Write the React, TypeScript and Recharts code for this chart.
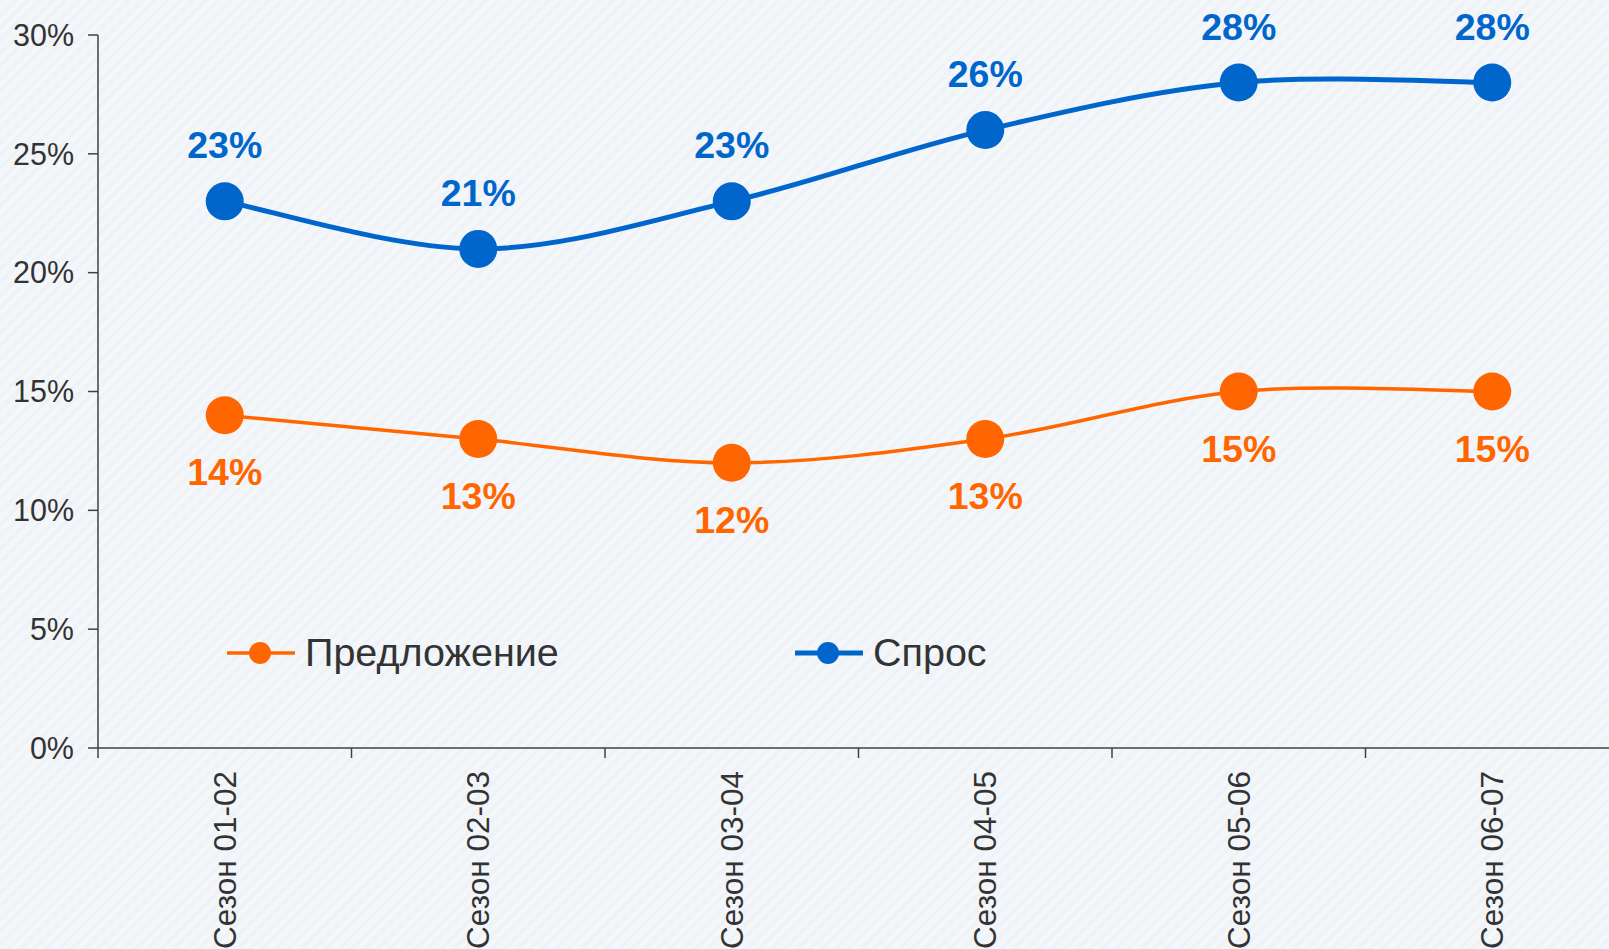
import React from 'react';
import { LineChart, Line, XAxis, YAxis, LabelList } from 'recharts';

const categories = ['Сезон 01-02', 'Сезон 02-03', 'Сезон 03-04', 'Сезон 04-05', 'Сезон 05-06', 'Сезон 06-07'];
const supplyValues = [14, 13, 12, 13, 15, 15];
const demandValues = [23, 21, 23, 26, 28, 28];
const yTicks = [0, 5, 10, 15, 20, 25, 30];

const seriesNames = { supply: 'Предложение', demand: 'Спрос' };

const data = categories.map((name, i) => ({
    name,
    supply: supplyValues[i],
    demand: demandValues[i],
}));

const ORANGE = '#FF6600';
const BLUE = '#0066CC';
const AXIS = '#404040';
const TEXT = '#333333';
const FONT = '"Liberation Sans", Arial, sans-serif';

const CHART_W = 1640;
const CHART_H = 949;
const MARGIN = { top: 35, right: 21, left: 0, bottom: 0 };
const Y_AXIS_W = 98;
const X_AXIS_H = 201;
const PLOT_BOTTOM = CHART_H - MARGIN.bottom - X_AXIS_H;
const BAND = (CHART_W - MARGIN.left - MARGIN.right - Y_AXIS_W) / categories.length;

// Excel-like smoothed line (Catmull-Rom through the points)
const smoothCurve = (context: any) => {
    let pts: number[][] = [];
    return {
        areaStart() {},
        areaEnd() {},
        lineStart() {
            pts = [];
        },
        point(x: number, y: number) {
            pts.push([+x, +y]);
        },
        lineEnd() {
            if (!pts.length) return;
            context.moveTo(pts[0][0], pts[0][1]);
            for (let i = 0; i < pts.length - 1; i++) {
                const p0 = pts[i - 1] || pts[i];
                const p1 = pts[i];
                const p2 = pts[i + 1];
                const p3 = pts[i + 2] || p2;
                context.bezierCurveTo(
                    p1[0] + (p2[0] - p0[0]) / 6,
                    p1[1] + (p2[1] - p0[1]) / 6,
                    p2[0] - (p3[0] - p1[0]) / 6,
                    p2[1] - (p3[1] - p1[1]) / 6,
                    p2[0],
                    p2[1]
                );
            }
        },
    };
};

const SeasonTick = (props: any) => {
    const { x, payload, index } = props;
    const isLast = index === categories.length - 1;
    return (
        <g>
            <line x1={x - BAND / 2} x2={x - BAND / 2} y1={PLOT_BOTTOM} y2={PLOT_BOTTOM + 10} stroke={AXIS} strokeWidth={1.5} />
            {isLast && (
                <line x1={x + BAND / 2} x2={x + BAND / 2} y1={PLOT_BOTTOM} y2={PLOT_BOTTOM + 10} stroke={AXIS} strokeWidth={1.5} />
            )}
            <text
                x={x}
                y={PLOT_BOTTOM + 23}
                transform={`rotate(-90, ${x}, ${PLOT_BOTTOM + 23})`}
                textAnchor="end"
                dominantBaseline="central"
                fill={TEXT}
                fontSize={31.5}
                fontFamily={FONT}
            >
                {payload.value}
            </text>
        </g>
    );
};

const makeLabel = (color: string, dy: number) => (props: any) => {
    const { x, y, value } = props;
    return (
        <text
            x={x}
            y={y + dy}
            textAnchor="middle"
            dominantBaseline="central"
            fill={color}
            fontSize={37.5}
            fontWeight="bold"
            fontFamily={FONT}
        >
            {`${value}%`}
        </text>
    );
};

const LegendItem = ({ color, label, left, lineWidth }: { color: string; label: string; left: number; lineWidth: number }) => (
    <div style={{ position: 'absolute', left, top: 630, height: 46, display: 'flex', alignItems: 'center' }}>
        <svg width={68} height={24} style={{ display: 'block' }}>
            <line x1={0} x2={68} y1={12} y2={12} stroke={color} strokeWidth={lineWidth} />
            <circle cx={33} cy={12} r={11} fill={color} />
        </svg>
        <span style={{ marginLeft: 10, fontSize: 39.5, color: TEXT, fontFamily: FONT, lineHeight: 1 }}>{label}</span>
    </div>
);

const App: React.FC = () => {
    return (
        <div
            style={{
                position: 'absolute',
                left: 0,
                top: 0,
                width: 1609,
                height: 949,
                overflow: 'hidden',
                background: 'repeating-linear-gradient(-45deg, #F4F7FA 0px, #F4F7FA 5px, #EFF3F7 5px, #EFF3F7 9px)',
                fontFamily: FONT,
            }}
        >
            <LineChart width={CHART_W} height={CHART_H} data={data} margin={MARGIN}>
                <XAxis
                    dataKey="name"
                    scale="band"
                    interval={0}
                    height={X_AXIS_H}
                    axisLine={{ stroke: AXIS, strokeWidth: 1.5 }}
                    tickLine={false}
                    tick={<SeasonTick />}
                />
                <YAxis
                    domain={[0, 30]}
                    ticks={yTicks}
                    interval={0}
                    width={Y_AXIS_W}
                    tickSize={10}
                    tickMargin={14}
                    tickFormatter={(v) => `${v}%`}
                    axisLine={{ stroke: AXIS, strokeWidth: 1.5 }}
                    tickLine={{ stroke: AXIS, strokeWidth: 1.5 }}
                    tick={{ fill: TEXT, fontSize: 30.5, fontFamily: FONT }}
                />
                <Line
                    dataKey="supply"
                    name={seriesNames.supply}
                    type={smoothCurve as any}
                    stroke={ORANGE}
                    strokeWidth={3.5}
                    dot={{ r: 19, fill: ORANGE, stroke: 'none', strokeWidth: 0 }}
                    activeDot={false}
                    isAnimationActive={false}
                >
                    <LabelList dataKey="supply" content={makeLabel(ORANGE, 57)} />
                </Line>
                <Line
                    dataKey="demand"
                    name={seriesNames.demand}
                    type={smoothCurve as any}
                    stroke={BLUE}
                    strokeWidth={5}
                    dot={{ r: 19, fill: BLUE, stroke: 'none', strokeWidth: 0 }}
                    activeDot={false}
                    isAnimationActive={false}
                >
                    <LabelList dataKey="demand" content={makeLabel(BLUE, -56)} />
                </Line>
            </LineChart>
            <LegendItem color={ORANGE} label={seriesNames.supply} left={227} lineWidth={3.5} />
            <LegendItem color={BLUE} label={seriesNames.demand} left={795} lineWidth={5} />
        </div>
    );
};

export default App;
